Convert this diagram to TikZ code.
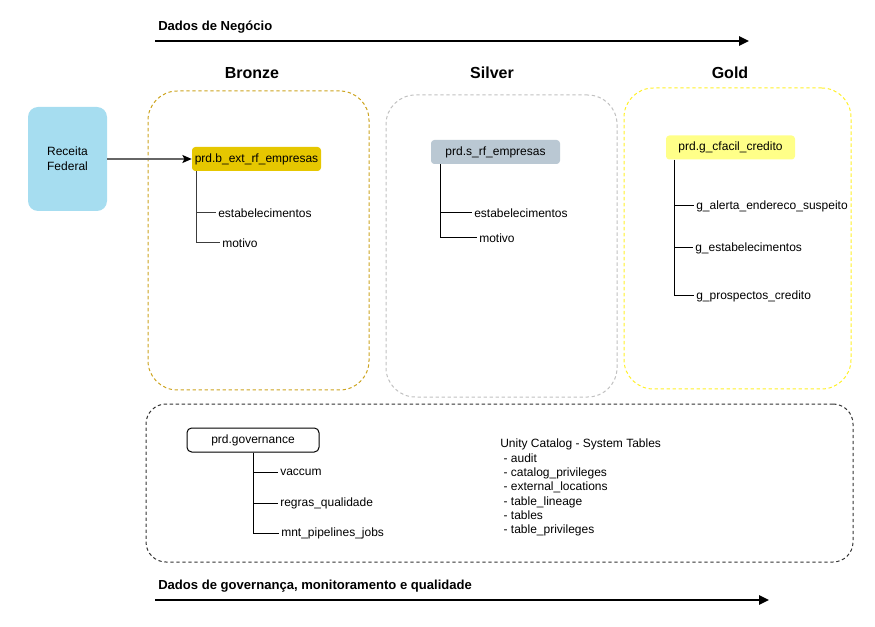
\documentclass[tikz,border=0pt]{standalone}
\usepackage{fontspec}
\setmainfont{Liberation Sans}
\usetikzlibrary{arrows.meta}
\definecolor{bronzeline}{RGB}{204,163,30}
\definecolor{bronzefill}{RGB}{230,199,0}
\definecolor{silverline}{RGB}{192,192,192}
\definecolor{silverfill}{RGB}{186,200,211}
\definecolor{goldline}{RGB}{255,240,40}
\definecolor{goldfill}{RGB}{255,255,136}
\definecolor{rffill}{RGB}{166,221,240}
\definecolor{treeline}{RGB}{60,60,60}
\tikzset{
  container/.style={draw, dash pattern=on 2.5pt off 2pt, rounded corners=22pt, line width=0.75pt},
  tablebox/.style={rounded corners=2.5pt, minimum width=96.75pt, minimum height=18pt, inner sep=0pt, font=\fontsize{9}{11}\selectfont},
  leaf/.style={anchor=west, inner xsep=1.5pt, inner ysep=1pt, font=\fontsize{9}{11}\selectfont},
  heading/.style={font=\fontsize{12}{14}\selectfont\bfseries},
  flowtitle/.style={anchor=west, inner sep=0pt, font=\fontsize{9.8}{12}\selectfont\bfseries},
  tree/.style={draw=treeline, line width=0.75pt},
  bigarrow/.style={line width=1.5pt, -{Triangle[length=7.5pt,width=7pt]}},
}
\begin{document}
\begin{tikzpicture}[x=0.75pt,y=-0.75pt]
\useasboundingbox (0,0) rectangle (875,627);

% top flow arrow
\node[flowtitle] (tt) at (158,27) {Dados de Negócio};
\coordinate (ta0) at (155,41);
\coordinate (ta1) at (749,41);
\draw[bigarrow] (ta0) -- (ta1);

% headings
\node[heading] (hb) at (252,73) {Bronze};
\node[heading] (hs) at (492,73) {Silver};
\node[heading] (hg) at (730,73) {Gold};

% containers
\node[container, draw=bronzeline, minimum width=165.75pt, minimum height=224.25pt] (cb) at (258.5,240.5) {};
\node[container, draw=silverline, minimum width=173.25pt, minimum height=226.5pt] (cs) at (501.5,246) {};
\node[container, draw=goldline, minimum width=170.25pt, minimum height=225.75pt] (cg) at (737.5,238.5) {};
\node[container, draw=black!80, rounded corners=15pt, minimum width=530.25pt, minimum height=118.5pt] (cgov) at (499.5,483) {};

% Receita Federal
\node[fill=rffill, rounded corners=7.5pt, minimum width=59.25pt, minimum height=78pt, align=center, font=\fontsize{9}{11.5}\selectfont] (rf) at (67.5,159) {Receita\\Federal};

% Bronze
\node[tablebox, fill=bronzefill] (b) at (256.5,159) {prd.b\_ext\_rf\_empresas};
\draw[draw=black!60, line width=0.9pt, -{Stealth[length=7pt,width=6pt,inset=1.5pt,black]}] (rf.east) -- (b.west);
\node[leaf] (b1) at (216,213) {estabelecimentos};
\node[leaf] (b2) at (220,243) {motivo};
\draw[tree] ([xshift=5*0.75pt]b.south west) |- (b1.west);
\draw[tree] ([xshift=5*0.75pt]b.south west) |- (b2.west);

% Silver
\node[tablebox, fill=silverfill] (s) at (495.5,152) {prd.s\_rf\_empresas};
\node[leaf] (s1) at (472,213) {estabelecimentos};
\node[leaf] (s2) at (477,238) {motivo};
\draw[tree, draw=black] ([xshift=10*0.75pt]s.south west) |- (s1.west);
\draw[tree, draw=black] ([xshift=10*0.75pt]s.south west) |- (s2.west);

% Gold
\node[tablebox, fill=goldfill] (g) at (730.5,147.5) {prd.g\_cfacil\_credito};
\node[leaf] (g1) at (694,206) {g\_alerta\_endereco\_suspeito};
\node[leaf] (g2) at (693,248) {g\_estabelecimentos};
\node[leaf] (g3) at (694,296) {g\_prospectos\_credito};
\draw[tree, draw=black] ([xshift=9*0.75pt]g.south west) |- (g1.west);
\draw[tree, draw=black] ([xshift=9*0.75pt]g.south west) |- (g2.west);
\draw[tree, draw=black] ([xshift=9*0.75pt]g.south west) |- (g3.west);

% Governance
\node[tablebox, draw=black, fill=white, line width=0.75pt, minimum width=99pt, rounded corners=3.5pt] (gov) at (253,440) {prd.governance};
\node[leaf] (v1) at (278,472) {vaccum};
\node[leaf] (v2) at (278,503) {regras\_qualidade};
\node[leaf] (v3) at (279,533) {mnt\_pipelines\_jobs};
\draw[tree, draw=black] (gov.south) |- (v1.west);
\draw[tree, draw=black] (gov.south) |- (v2.west);
\draw[tree, draw=black] (gov.south) |- (v3.west);

\node[anchor=north west, align=left, inner sep=0pt, font=\fontsize{9}{10.7}\selectfont] (uc) at (500,439)
 {Unity Catalog - System Tables\\
 \ - audit\\
 \ - catalog\_privileges\\
 \ - external\_locations\\
 \ - table\_lineage\\
 \ - tables\\
 \ - table\_privileges};

% bottom flow arrow
\node[flowtitle] (bt) at (158,586) {Dados de governança, monitoramento e qualidade};
\coordinate (ba0) at (155,600);
\coordinate (ba1) at (769,600);
\draw[bigarrow] (ba0) -- (ba1);
\end{tikzpicture}
\end{document}
